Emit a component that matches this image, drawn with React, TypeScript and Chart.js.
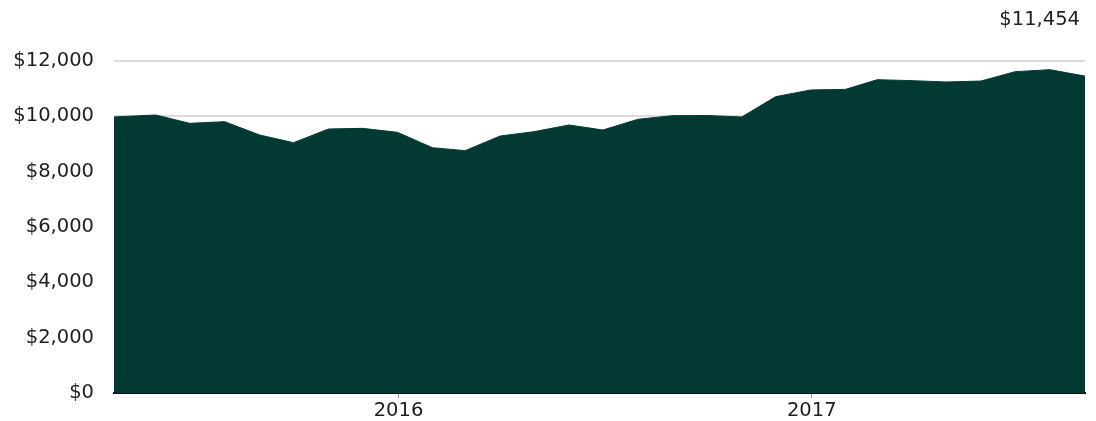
import React, { useEffect, useRef } from "react";
import { Chart, registerables } from "chart.js";

Chart.register(...registerables);

const pointDates: string[] = [
  "2015-04-24", "2015-05-31", "2015-06-30", "2015-07-31", "2015-08-31", "2015-09-30", "2015-10-31",
  "2015-11-30", "2015-12-31", "2016-01-31", "2016-02-29", "2016-03-31", "2016-04-30", "2016-05-31",
  "2016-06-30", "2016-07-31", "2016-08-31", "2016-09-30", "2016-10-31", "2016-11-30", "2016-12-31",
  "2017-01-31", "2017-02-28", "2017-03-31", "2017-04-30", "2017-05-31", "2017-06-30", "2017-07-31",
  "2017-08-31",
];

const portfolioValues: number[] = [
  9980, 10048, 9747, 9807, 9325, 9048, 9542, 9566, 9422, 8867, 8759, 9289, 9446, 9687, 9506,
  9892, 10024, 10030, 9976, 10711, 10952, 10976, 11325, 11289, 11241, 11277, 11614, 11686, 11454,
];

const yearTickDates: string[] = ["2016-01-01", "2017-01-01"];
const yearTickLabels: string[] = ["2016", "2017"];

const FONT = "'DejaVu Sans', sans-serif";
const FONT_SIZE = 19.5;
const FILL = "#023a33";

const dayNum = (s: string) => Date.parse(s + "T00:00:00Z") / 86400000;
const fmt = (v: number) => "$" + Math.round(v).toLocaleString("en-US");

const lastValueLabel = {
  id: "lastValueLabel",
  afterDraw(chart: any) {
    const { ctx, chartArea } = chart;
    const last = portfolioValues[portfolioValues.length - 1];
    ctx.save();
    ctx.font = `${FONT_SIZE}px ${FONT}`;
    ctx.fillStyle = "#1e1e1e";
    ctx.textAlign = "right";
    ctx.textBaseline = "middle";
    ctx.fillText(fmt(last), chartArea.right - 5, 20);
    ctx.restore();
  },
};

export default function App() {
  const ref = useRef<HTMLCanvasElement | null>(null);

  useEffect(() => {
    document.body.style.margin = "0";
    const canvas = ref.current;
    if (!canvas) return;
    const tickDays = yearTickDates.map(dayNum);
    const chart = new Chart(canvas, {
      type: "line",
      data: {
        datasets: [
          {
            label: "Value",
            data: portfolioValues.map((v, i) => ({ x: dayNum(pointDates[i]), y: v })),
            fill: "origin",
            backgroundColor: FILL,
            borderColor: FILL,
            borderWidth: 1,
            pointRadius: 0,
            tension: 0,
          },
        ],
      },
      options: {
        animation: false,
        responsive: false,
        maintainAspectRatio: false,
        layout: { padding: { top: 61, right: 11, left: 0, bottom: 0 } },
        plugins: {
          legend: { display: false },
          tooltip: { enabled: false },
        },
        scales: {
          x: {
            type: "linear",
            min: dayNum(pointDates[0]),
            max: dayNum(pointDates[pointDates.length - 1]),
            afterBuildTicks: (axis: any) => {
              axis.ticks = tickDays.map((v) => ({ value: v }));
            },
            afterFit: (axis: any) => {
              axis.height = 28;
            },
            ticks: {
              callback: (value: any) => {
                const k = tickDays.indexOf(Number(value));
                return k >= 0 ? yearTickLabels[k] : "";
              },
              font: { family: FONT, size: FONT_SIZE },
              color: "#1e1e1e",
              padding: 1,
              maxRotation: 0,
            },
            grid: {
              drawOnChartArea: false,
              drawTicks: true,
              tickLength: 5,
              tickColor: "#999999",
              tickWidth: 1,
            },
            border: { display: true, color: "#111111", width: 2 },
          },
          y: {
            min: 0,
            max: 12000,
            afterFit: (axis: any) => {
              axis.width = 114;
            },
            ticks: {
              stepSize: 2000,
              callback: (value: any) => fmt(Number(value)),
              font: { family: FONT, size: FONT_SIZE },
              color: "#1e1e1e",
              padding: 0,
            },
            grid: {
              color: "#dcdcdc",
              lineWidth: 2,
              drawTicks: true,
              tickLength: 20,
              tickColor: "rgba(0,0,0,0)",
            },
            border: { display: false },
          },
        },
      },
      plugins: [lastValueLabel],
    });
    return () => chart.destroy();
  }, []);

  return (
    <div style={{ width: 1096, height: 421 }}>
      <canvas ref={ref} width={1096} height={421} style={{ display: "block" }} />
    </div>
  );
}
